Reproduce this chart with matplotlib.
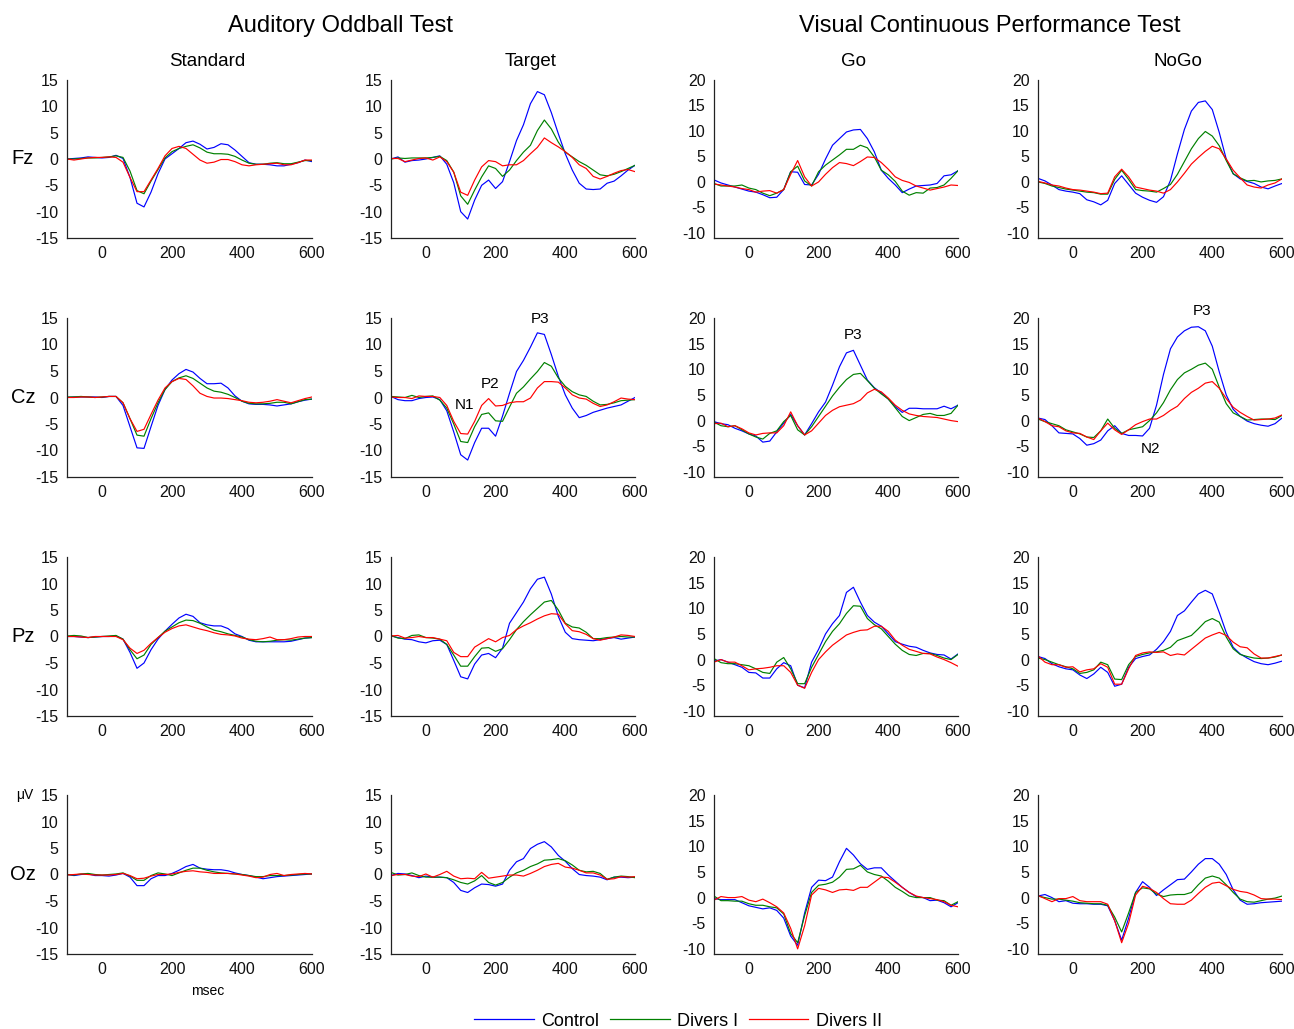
import matplotlib
matplotlib.use("Agg")
import matplotlib.pyplot as plt
from matplotlib.lines import Line2D

plt.rcParams['font.family'] = ['Liberation Sans', 'DejaVu Sans']
plt.rcParams['axes.unicode_minus'] = False

# sample times (msec), one value every 20 ms
times = list(range(-100, 601, 20))

groups = ["Control", "Divers I", "Divers II"]
colors = ["#0000ff", "#008000", "#ff0000"]
sites = ["Fz", "Cz", "Pz", "Oz"]
conditions = ["Standard", "Target", "Go", "NoGo"]

# ---- Fz ----
fz_std_ctl = [0.0, 0.1, 0.2, 0.4, 0.3, 0.2, 0.3, 0.7, 0.1, -3.5, -8.4, -9.1, -6.3, -2.8, 0.0, 1.0, 2.0, 3.1, 3.4, 2.8, 1.9, 2.2, 2.9, 2.7, 1.7, 0.5, -0.7, -1.0, -1.0, -1.1, -1.3, -1.3, -1.0, -0.7, -0.2, -0.5]
fz_std_d1 = [0.0, 0.0, 0.1, 0.2, 0.2, 0.3, 0.4, 0.6, 0.3, -2.3, -6.0, -6.6, -4.2, -2.0, 0.2, 1.4, 2.0, 2.4, 2.7, 2.1, 1.3, 1.0, 1.0, 0.9, 0.5, -0.2, -0.8, -1.0, -1.0, -0.8, -0.7, -0.9, -0.9, -0.6, -0.3, -0.3]
fz_std_d2 = [0.0, -0.2, 0.0, 0.2, 0.3, 0.3, 0.4, 0.3, -0.6, -3.5, -6.2, -6.2, -4.0, -1.8, 0.6, 2.0, 2.4, 2.0, 0.9, -0.2, -0.8, -0.6, -0.1, -0.1, -0.5, -1.1, -1.3, -1.1, -1.0, -0.9, -0.8, -1.1, -1.1, -0.7, -0.2, -0.2]

fz_tgt_ctl = [0.0, 0.4, -0.6, -0.3, -0.2, 0.0, 0.3, 0.6, -1.0, -4.5, -10.0, -11.4, -7.8, -5.0, -4.0, -5.6, -4.3, -0.5, 3.5, 6.5, 10.5, 12.8, 12.2, 8.8, 4.8, 1.0, -2.1, -4.6, -5.7, -5.8, -5.7, -4.6, -4.2, -3.2, -2.1, -1.2]
fz_tgt_d1 = [0.0, 0.2, 0.1, 0.2, 0.2, 0.2, 0.3, 0.5, -0.3, -2.5, -7.0, -8.6, -5.9, -3.4, -1.3, -1.8, -3.3, -2.1, -0.3, 1.3, 2.6, 5.4, 7.4, 5.7, 3.2, 1.3, 0.4, -0.5, -1.2, -2.1, -3.0, -3.2, -2.9, -2.4, -1.8, -1.2]
fz_tgt_d2 = [0.1, 0.1, -0.5, -0.2, 0.1, 0.2, -0.2, 0.4, -0.5, -2.5, -6.3, -6.9, -4.0, -1.5, -0.3, -0.5, -1.3, -1.1, -1.1, -0.3, 1.0, 2.2, 4.0, 3.1, 2.3, 1.4, 0.3, -1.1, -1.8, -3.3, -3.8, -3.3, -2.7, -2.2, -2.0, -2.4]

fz_go_ctl = [0.4, -0.2, -0.6, -1.0, -1.4, -1.8, -2.0, -2.5, -3.1, -3.0, -1.5, 2.0, 1.9, -0.5, -0.6, 1.5, 4.5, 7.2, 8.5, 9.8, 10.2, 10.3, 8.5, 5.9, 2.3, 0.7, -0.6, -2.1, -1.4, -0.8, -0.7, -0.6, -0.3, 1.2, 1.4, 2.2]
fz_go_d1 = [-0.3, -0.8, -0.8, -0.8, -0.6, -1.2, -1.5, -2.2, -2.7, -2.2, -1.5, 2.0, 3.1, 0.2, -0.8, 2.0, 3.3, 4.3, 5.3, 6.4, 6.4, 7.2, 6.7, 4.9, 2.3, 1.4, 0.1, -1.8, -2.6, -2.1, -2.2, -1.2, -1.1, -0.6, 0.7, 2.2]
fz_go_d2 = [-0.4, -0.6, -0.8, -1.0, -1.3, -1.5, -2.0, -1.8, -1.7, -2.2, -1.5, 1.5, 4.2, 1.0, -0.8, 0.0, 1.5, 2.8, 3.8, 3.6, 3.2, 4.0, 4.9, 4.8, 3.8, 2.5, 1.0, 0.3, -0.1, -0.8, -1.2, -1.6, -1.3, -1.0, -0.6, -0.7]

fz_nogo_ctl = [0.7, 0.2, -0.6, -1.5, -1.8, -2.0, -2.3, -3.5, -3.9, -4.5, -3.6, -0.3, 1.2, -0.5, -2.2, -3.0, -3.6, -4.0, -2.9, 0.3, 5.5, 10.3, 13.9, 15.6, 15.9, 14.2, 9.7, 4.5, 1.6, 0.6, 0.1, -0.3, -1.0, -1.35, -0.8, -0.3]
fz_nogo_d1 = [0.0, -0.3, -0.8, -1.1, -1.4, -1.6, -1.8, -2.0, -2.1, -2.4, -2.4, 0.5, 2.3, 0.5, -1.5, -1.7, -1.8, -2.0, -1.3, -0.5, 1.5, 4.0, 6.5, 8.5, 9.9, 9.0, 7.1, 4.2, 1.6, 0.8, 0.2, 0.3, 0.0, 0.2, 0.3, 0.6]
fz_nogo_d2 = [0.1, -0.2, -0.6, -0.8, -1.2, -1.5, -1.6, -1.8, -2.0, -2.3, -2.2, 1.0, 2.5, 1.0, -1.0, -1.3, -1.6, -1.8, -2.2, -1.5, 0.0, 1.7, 3.5, 4.8, 6.0, 7.0, 6.5, 4.5, 2.3, 0.8, -0.6, -1.0, -1.2, -0.6, -0.2, 0.6]

# ---- Cz ----
cz_std_ctl = [0.0, 0.1, 0.1, 0.1, 0.1, 0.0, 0.2, 0.2, -1.5, -5.5, -9.5, -9.6, -5.5, -1.5, 1.5, 3.3, 4.5, 5.3, 4.8, 3.6, 2.6, 2.6, 2.7, 1.8, 0.3, -0.7, -1.2, -1.3, -1.3, -1.4, -1.6, -1.4, -1.2, -0.8, -0.5, -0.3]
cz_std_d1 = [0.1, 0.1, 0.2, 0.1, 0.0, 0.1, 0.2, 0.2, -1.0, -4.0, -7.1, -7.3, -4.0, -1.0, 1.5, 3.0, 3.7, 4.1, 3.6, 2.7, 1.8, 1.2, 1.0, 0.6, 0.0, -0.7, -1.1, -1.2, -1.2, -1.1, -0.9, -0.9, -1.2, -0.8, -0.4, -0.3]
cz_std_d2 = [0.0, 0.0, 0.1, 0.1, 0.0, 0.1, 0.2, 0.2, -1.0, -4.0, -6.4, -6.0, -3.2, -0.5, 1.8, 3.0, 3.6, 3.4, 2.2, 0.8, 0.2, -0.1, -0.1, -0.2, -0.4, -0.6, -0.9, -1.0, -0.9, -0.7, -0.4, -0.7, -1.0, -0.6, -0.2, 0.1]

cz_tgt_ctl = [0.2, -0.4, -0.6, -0.6, -0.2, 0.0, 0.1, -0.4, -2.5, -6.5, -10.8, -11.8, -8.5, -5.8, -5.8, -7.3, -3.5, 0.8, 4.9, 7.0, 9.5, 12.2, 11.9, 8.1, 4.0, 0.5, -2.0, -3.8, -3.4, -2.8, -2.4, -2.0, -1.7, -1.4, -0.7, 0.0]
cz_tgt_d1 = [0.2, 0.1, 0.0, 0.4, 0.0, 0.2, 0.3, -0.5, -2.0, -5.0, -8.3, -8.5, -5.5, -3.2, -2.9, -4.4, -4.5, -1.8, 0.8, 2.0, 3.5, 4.9, 6.6, 5.9, 3.7, 2.1, 1.1, 0.5, 0.2, -0.7, -1.4, -1.3, -1.0, -0.6, -0.5, -0.4]
cz_tgt_d2 = [0.1, 0.0, 0.0, -0.2, 0.3, 0.2, 0.2, 0.0, -1.5, -4.5, -6.8, -6.9, -4.5, -1.5, -0.2, -1.6, -1.5, -1.0, -0.8, -0.8, -0.1, 1.8, 3.0, 3.0, 2.9, 1.8, 0.5, -0.1, -0.3, -1.1, -1.7, -1.4, -0.8, -0.1, -0.3, -0.4]

cz_go_ctl = [-0.2, -0.6, -0.8, -1.5, -2.0, -2.6, -3.0, -4.2, -4.0, -2.2, -0.5, 1.2, -1.0, -2.8, -0.6, 1.7, 3.6, 6.9, 10.5, 13.2, 13.7, 10.8, 7.9, 6.4, 5.4, 4.2, 2.7, 1.6, 2.4, 2.4, 2.3, 2.3, 2.3, 2.8, 2.3, 3.0]
cz_go_d1 = [-0.3, -1.0, -1.2, -1.0, -1.8, -2.6, -3.2, -3.6, -2.5, -2.0, -0.2, 1.0, -1.8, -2.8, -1.2, 0.8, 2.8, 4.8, 6.5, 8.0, 9.0, 9.2, 7.8, 6.3, 5.2, 4.2, 2.5, 0.8, 0.0, 0.6, 1.2, 1.4, 1.0, 1.0, 1.4, 3.0]
cz_go_d2 = [-0.6, -0.5, -1.2, -1.0, -1.6, -2.4, -2.8, -2.5, -2.4, -2.4, -1.0, 1.7, -1.0, -2.8, -2.0, -0.5, 1.0, 2.0, 2.7, 3.0, 3.3, 4.0, 5.4, 6.1, 5.6, 4.4, 3.0, 2.0, 1.3, 1.0, 0.8, 0.7, 0.6, 0.3, 0.0, -0.2]

cz_nogo_ctl = [0.5, 0.2, -1.0, -2.4, -2.5, -2.6, -3.5, -4.8, -4.5, -3.8, -2.0, -1.0, -2.5, -2.9, -2.9, -3.0, -1.5, 3.0, 9.0, 14.0, 16.3, 17.5, 18.2, 18.3, 17.5, 14.5, 9.5, 5.0, 2.2, 0.8, -0.1, -0.6, -0.9, -1.1, -0.6, 0.5]
cz_nogo_d1 = [0.3, -0.2, -0.6, -1.0, -1.8, -2.2, -2.6, -3.2, -3.3, -2.0, 0.3, -1.5, -2.5, -1.8, -1.5, -1.2, 0.0, 1.5, 3.5, 6.0, 8.0, 9.3, 10.0, 10.8, 11.2, 10.0, 6.5, 3.3, 1.5, 0.8, 0.1, 0.2, 0.3, 0.3, 0.2, 1.0]
cz_nogo_d2 = [0.5, -0.2, -1.0, -1.2, -2.0, -2.4, -2.5, -3.2, -3.7, -2.0, -0.5, -1.8, -2.7, -1.8, -0.8, -0.2, 0.3, 0.3, 1.0, 2.0, 2.8, 4.3, 5.5, 6.3, 7.3, 7.6, 6.3, 4.3, 2.6, 1.6, 0.8, 0.1, 0.2, 0.3, 0.5, 1.1]

# ---- Pz ----
pz_std_ctl = [0.0, 0.0, -0.1, -0.2, -0.1, 0.0, 0.0, 0.1, -0.5, -3.0, -6.0, -5.0, -2.5, -0.5, 1.0, 2.3, 3.5, 4.2, 3.8, 2.6, 2.2, 2.0, 2.0, 1.5, 0.5, 0.0, -0.7, -1.0, -1.0, -1.0, -1.0, -1.0, -0.9, -0.6, -0.3, -0.2]
pz_std_d1 = [0.1, 0.2, 0.1, -0.2, -0.1, 0.0, 0.1, 0.2, -0.5, -2.5, -4.2, -3.5, -1.5, -0.2, 1.0, 1.8, 2.6, 3.1, 3.0, 2.5, 1.8, 1.2, 0.9, 0.5, 0.2, -0.1, -0.6, -0.9, -1.0, -0.9, -0.7, -0.6, -0.7, -0.5, -0.3, -0.2]
pz_std_d2 = [0.0, 0.0, -0.1, -0.2, 0.0, 0.0, 0.0, 0.0, -0.6, -2.2, -3.2, -2.6, -1.3, -0.2, 0.8, 1.5, 2.0, 2.2, 1.8, 1.4, 1.1, 0.7, 0.4, 0.3, 0.1, -0.3, -0.5, -0.6, -0.4, -0.1, -0.6, -0.6, -0.4, -0.1, 0.0, 0.0]

pz_tgt_ctl = [0.1, -0.2, -0.5, -0.6, -1.0, -1.2, -0.8, -0.7, -1.5, -4.5, -7.6, -8.0, -5.2, -3.5, -3.2, -4.0, -2.2, 2.5, 4.5, 6.5, 9.0, 10.8, 11.2, 8.0, 3.8, 0.8, -0.4, -0.6, -0.7, -0.8, -0.6, -0.4, -0.2, -0.5, -0.3, -0.1]
pz_tgt_d1 = [0.2, -0.3, -0.4, 0.2, 0.3, -0.2, -0.3, -0.5, -1.5, -3.5, -5.6, -5.6, -3.8, -2.2, -2.1, -2.8, -2.3, -0.6, 1.3, 2.8, 4.1, 5.3, 6.5, 6.8, 5.0, 2.5, 1.8, 1.6, 0.8, -0.4, -0.4, -0.2, -0.1, 0.0, -0.1, -0.1]
pz_tgt_d2 = [0.1, 0.2, -0.3, -0.2, 0.0, -0.2, -0.2, -0.5, -0.8, -3.0, -3.8, -3.8, -2.0, -1.2, -0.4, -1.0, -0.2, 0.2, 1.3, 2.0, 2.6, 3.3, 3.9, 4.3, 4.2, 2.4, 1.1, 0.9, 0.4, -0.4, -0.7, -0.4, -0.1, 0.3, 0.2, 0.0]

pz_go_ctl = [-0.3, 0.0, -0.5, -1.0, -1.5, -2.5, -2.6, -3.6, -3.6, -1.8, -0.6, -1.2, -5.0, -5.5, -0.5, 2.0, 5.0, 7.0, 8.6, 13.1, 14.1, 11.2, 8.6, 7.3, 6.5, 5.0, 3.5, 3.0, 2.6, 2.4, 1.8, 1.3, 1.0, 0.9, 0.1, 1.1]
pz_go_d1 = [0.2, -0.6, -0.8, -0.8, -1.0, -1.2, -1.8, -2.5, -2.7, -0.5, 0.4, -1.8, -4.7, -4.7, -1.5, 1.0, 3.5, 5.5, 7.0, 9.0, 10.5, 10.4, 8.0, 6.8, 6.0, 4.5, 3.0, 1.8, 1.0, 0.8, 1.2, 1.2, 0.8, 0.3, 0.0, 1.0]
pz_go_d2 = [-0.5, 0.0, -0.5, -0.5, -1.2, -2.0, -1.8, -1.7, -1.5, -1.2, -1.2, -2.5, -5.0, -5.6, -2.5, 0.0, 1.5, 2.8, 3.8, 4.8, 5.3, 5.7, 5.8, 6.5, 6.5, 5.5, 3.8, 2.8, 2.0, 1.6, 1.2, 1.1, 0.5, 0.0, -0.6, -1.3]

pz_nogo_ctl = [0.6, 0.2, -0.8, -1.4, -1.8, -2.0, -3.0, -3.7, -2.8, -1.5, -2.5, -5.2, -4.8, -1.5, 0.2, 0.6, 0.9, 2.0, 3.5, 5.5, 8.6, 9.5, 11.2, 12.8, 13.5, 12.8, 9.2, 5.3, 2.4, 1.1, 0.3, -0.4, -0.8, -1.0, -0.7, -0.3]
pz_nogo_d1 = [0.3, 0.0, -0.5, -1.0, -1.4, -1.8, -2.7, -2.5, -2.0, -0.5, -1.0, -3.8, -3.9, -1.0, 0.6, 1.0, 1.3, 1.5, 1.8, 2.4, 3.7, 4.2, 4.7, 6.0, 7.4, 8.0, 7.3, 4.4, 2.1, 1.0, 0.6, 0.3, 0.2, 0.3, 0.5, 0.9]
pz_nogo_d2 = [0.7, -0.5, -1.0, -1.0, -1.5, -1.4, -2.4, -2.0, -1.8, -0.8, -1.5, -4.8, -4.8, -1.8, 0.8, 1.3, 1.5, 1.4, 1.5, 0.8, 1.1, 0.9, 2.0, 3.1, 4.2, 4.8, 5.3, 4.7, 3.4, 2.5, 2.3, 1.1, 0.3, 0.3, 0.6, 0.9]

# ---- Oz ----
oz_std_ctl = [0.0, -0.2, 0.0, 0.1, -0.2, -0.2, -0.3, -0.1, 0.2, -0.5, -2.1, -2.1, -0.8, -0.2, -0.2, 0.2, 0.8, 1.5, 1.9, 1.2, 1.0, 0.9, 0.9, 0.7, 0.3, 0.0, -0.2, -0.5, -0.8, -0.6, -0.4, -0.3, -0.2, -0.1, 0.0, 0.1]
oz_std_d1 = [0.0, -0.1, 0.1, 0.2, 0.0, -0.1, 0.0, 0.1, 0.3, -0.3, -1.1, -1.1, -0.2, 0.3, 0.1, -0.2, 0.3, 0.8, 1.2, 1.2, 0.8, 0.5, 0.3, 0.2, 0.1, 0.0, -0.2, -0.4, -0.4, -0.2, -0.2, -0.2, -0.1, 0.0, 0.1, 0.1]
oz_std_d2 = [-0.1, 0.0, 0.1, 0.0, -0.1, -0.1, -0.1, 0.0, 0.2, -0.2, -0.8, -0.7, -0.3, 0.0, 0.0, 0.1, 0.4, 0.6, 0.7, 0.5, 0.4, 0.2, 0.2, 0.2, 0.1, -0.1, -0.3, -0.6, -0.5, 0.0, 0.2, -0.2, 0.0, 0.1, 0.2, 0.1]

oz_tgt_ctl = [-0.2, 0.2, 0.1, -0.2, -0.6, -0.3, -0.5, -0.5, -0.6, -1.5, -3.0, -3.4, -2.5, -1.8, -1.9, -2.2, -1.8, 0.8, 2.4, 3.0, 4.9, 5.7, 6.2, 5.2, 3.6, 2.5, 1.1, 0.0, -0.2, -0.3, -0.5, -1.0, -0.5, -0.5, -0.6, -0.5]
oz_tgt_d1 = [0.4, -0.1, 0.0, 0.3, -0.2, -0.5, -0.5, -0.5, -0.6, -1.0, -1.5, -1.8, -1.2, -0.2, -1.5, -2.0, -1.5, -0.5, 0.3, 0.8, 1.5, 2.0, 2.7, 2.8, 3.0, 2.6, 1.8, 0.8, 0.5, 0.6, 0.2, -0.9, -0.5, -0.3, -0.4, -0.6]
oz_tgt_d2 = [-0.2, 0.0, 0.0, -0.3, -0.4, 0.1, -0.5, 0.0, 0.6, -0.3, -0.8, -0.7, -0.8, 0.4, -0.7, -0.5, -0.3, -0.1, -0.1, -0.3, 0.2, 0.8, 1.5, 1.9, 2.1, 1.4, 1.2, 0.8, 0.3, 0.3, -0.1, -0.9, -0.8, -0.4, -0.5, -0.4]

oz_go_ctl = [-0.2, -0.4, -0.4, -0.4, -1.0, -1.6, -1.9, -2.2, -2.0, -2.5, -4.0, -7.5, -9.3, -3.0, 2.0, 3.4, 3.3, 4.0, 7.0, 9.6, 8.3, 6.6, 5.5, 5.8, 5.8, 4.4, 3.2, 2.0, 1.0, 0.2, 0.0, -0.6, -0.5, -1.0, -1.8, -1.0]
oz_go_d1 = [0.3, -0.6, -0.6, -0.7, -0.7, -1.2, -1.5, -1.5, -1.8, -2.0, -3.2, -7.0, -8.8, -3.5, 1.0, 2.4, 2.6, 3.0, 4.0, 5.5, 5.6, 6.3, 5.0, 4.5, 4.2, 3.2, 2.0, 1.2, 0.3, 0.0, 0.0, 0.0, -0.5, -0.6, -1.5, -0.8]
oz_go_d2 = [-0.5, 0.2, 0.0, 0.0, 0.2, -0.5, -0.8, -0.3, -1.0, -1.8, -3.0, -6.0, -10.0, -5.5, 0.5, 1.8, 1.5, 1.0, 1.5, 1.6, 1.4, 2.0, 2.0, 3.0, 4.0, 3.9, 3.0, 2.0, 1.0, 0.3, 0.0, -0.2, -0.4, -0.8, -1.5, -1.8]

oz_nogo_ctl = [0.3, 0.6, 0.0, -0.8, -0.6, -1.1, -1.2, -1.2, -1.3, -1.3, -1.6, -4.5, -8.3, -4.0, 1.0, 3.1, 2.0, 0.4, 1.5, 2.5, 3.5, 3.6, 5.0, 6.5, 7.6, 7.6, 6.5, 4.5, 1.5, -0.5, -1.3, -1.2, -1.0, -0.9, -0.8, -0.7]
oz_nogo_d1 = [0.3, 0.0, -0.3, -0.3, -0.5, -0.7, -1.0, -1.1, -1.2, -1.2, -1.5, -3.8, -6.7, -3.0, 1.0, 1.9, 1.7, 0.7, 0.2, 0.5, 0.6, 0.6, 1.0, 2.5, 3.8, 4.2, 3.8, 2.5, 1.0, -0.3, -0.8, -0.9, -0.6, -0.3, -0.1, 0.3]
oz_nogo_d2 = [0.4, -0.2, -0.8, -0.2, -0.2, 0.2, -0.6, -0.8, -0.8, -0.8, -1.3, -4.5, -8.8, -5.0, 0.5, 2.2, 1.8, 1.0, -0.2, -1.2, -1.3, -1.3, -0.5, 0.8, 2.0, 2.8, 3.0, 2.3, 1.6, 1.2, 1.0, 0.5, -0.2, -0.3, -0.3, -0.4]

panels = [
    [(fz_std_ctl, fz_std_d1, fz_std_d2), (fz_tgt_ctl, fz_tgt_d1, fz_tgt_d2),
     (fz_go_ctl, fz_go_d1, fz_go_d2), (fz_nogo_ctl, fz_nogo_d1, fz_nogo_d2)],
    [(cz_std_ctl, cz_std_d1, cz_std_d2), (cz_tgt_ctl, cz_tgt_d1, cz_tgt_d2),
     (cz_go_ctl, cz_go_d1, cz_go_d2), (cz_nogo_ctl, cz_nogo_d1, cz_nogo_d2)],
    [(pz_std_ctl, pz_std_d1, pz_std_d2), (pz_tgt_ctl, pz_tgt_d1, pz_tgt_d2),
     (pz_go_ctl, pz_go_d1, pz_go_d2), (pz_nogo_ctl, pz_nogo_d1, pz_nogo_d2)],
    [(oz_std_ctl, oz_std_d1, oz_std_d2), (oz_tgt_ctl, oz_tgt_d1, oz_tgt_d2),
     (oz_go_ctl, oz_go_d1, oz_go_d2), (oz_nogo_ctl, oz_nogo_d1, oz_nogo_d2)],
]

# peak labels: (row, col, text, time, value)
peak_labels = [
    (1, 1, "N1", 110, -1.5), (1, 1, "P2", 185, 2.5), (1, 1, "P3", 328, 14.8),
    (1, 2, "P3", 299, 16.7),
    (1, 3, "P3", 371, 21.4), (1, 3, "N2", 224, -5.5),
]

W, H = 1294.0, 1029.0
col_left = [67, 391, 714, 1038]
col_right = [312, 635, 958, 1282]
row_top = [80, 318, 557, 795]
row_bot = [238, 477, 716, 954]

fig = plt.figure(figsize=(12.94, 10.29), dpi=100)

axes = {}
for r in range(4):
    for c in range(4):
        l, t, rr, b = col_left[c], row_top[r], col_right[c], row_bot[r]
        ax = fig.add_axes([l / W, 1 - b / H, (rr - l) / W, (b - t) / H])
        for series, col in zip(panels[r][c], colors):
            ax.plot(times, series, color=col, lw=0.85)
        ax.set_xlim(-100, 600)
        ax.set_xticks([0, 200, 400, 600])
        if c < 2:
            ax.set_ylim(-15, 15)
            ax.set_yticks(range(-15, 16, 5))
        else:
            ax.set_ylim(-11, 20)
            ax.set_yticks(range(-10, 21, 5))
        ax.spines['top'].set_visible(False)
        ax.spines['right'].set_visible(False)
        for s in ['left', 'bottom']:
            ax.spines[s].set_color('#222222')
            ax.spines[s].set_linewidth(0.9)
        ax.tick_params(length=0, labelsize=11.5, pad=6, colors='#111111')
        axes[(r, c)] = ax

for r, c, txt, tx, ty in peak_labels:
    axes[(r, c)].text(tx, ty, txt, fontsize=11, ha='center', va='center')

# row labels at the zero line
for r, site in enumerate(sites):
    y0 = row_top[r] + (row_bot[r] - row_top[r]) * 0.5
    fig.text(23 / W, 1 - y0 / H, site, fontsize=14.5, ha='center', va='center')

for c, cond in enumerate(conditions):
    xc = (col_left[c] + col_right[c]) / 2.0 + 18
    fig.text(xc / W, 1 - 61 / H, cond, fontsize=13.5, ha='center', va='center')

fig.text(340 / W, 1 - 26 / H, "Auditory Oddball Test", fontsize=17, ha='center', va='center')
fig.text(990 / W, 1 - 26 / H, "Visual Continuous Performance Test", fontsize=17, ha='center', va='center')
fig.text(25 / W, 1 - 795 / H, "\u03bcV", fontsize=10, ha='center', va='center')
fig.text(208 / W, 1 - 991 / H, "msec", fontsize=10, ha='center', va='center')

handles = [Line2D([], [], color=col, lw=0.9) for col in colors]
fig.legend(handles, groups, loc='center', bbox_to_anchor=(678 / W, 1 - 1021 / H),
           ncol=3, frameon=False, fontsize=13, handlelength=3.3, handletextpad=0.4,
           columnspacing=0.6)

fig.savefig("out.png", dpi=100)
